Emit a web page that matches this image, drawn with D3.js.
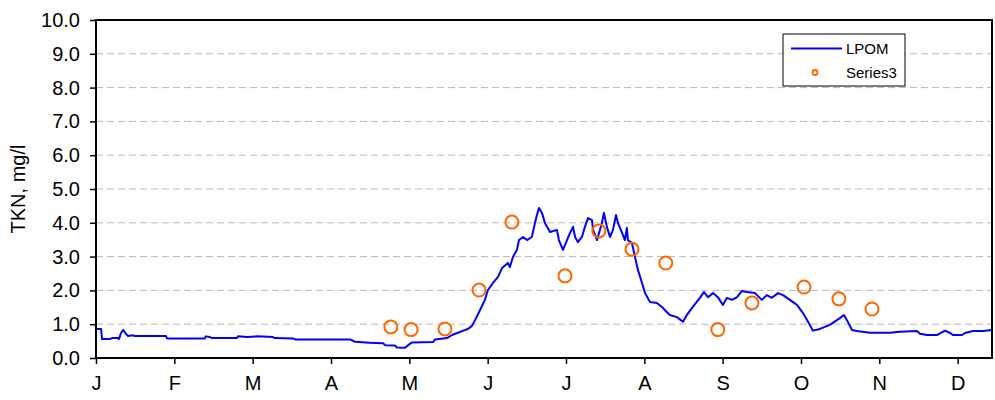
<!DOCTYPE html>
<html>
<head>
<meta charset="utf-8">
<script src="https://cdn.jsdelivr.net/npm/d3@7"></script>
<style>
  body { margin: 0; background: #fff; }
  text { font-family: "Liberation Sans", Arial, sans-serif; fill: #000; }
</style>
</head>
<body>
<div id="chart"></div>
<script>

const width = 995
const height = 400
const margin = { top: 20, bottom: 42, left: 96, right: 3 }

// LPOM simulated series (day of year, mg/l)
const lpomDays = [0, 2.0, 2.4, 5.5, 6.3, 8.7, 9.1, 9.9, 10.7, 11.9, 12.7, 14.6, 15.4, 27.7, 28.1, 43.1, 43.5, 45.1, 45.9,
    55.8, 56.2, 59.8, 63.7, 70.0, 70.8, 78.0, 78.8, 93.8, 100.5, 102.5, 108.4, 113.6, 114.4, 118.3, 119.1, 122.3,
    123.5, 125.1, 133.4, 134.2, 138.9, 140.9, 144.0, 147.2, 148.8, 150.0, 152.0, 153.9, 155.1, 157.1, 159.1, 160.7,
    163.0, 163.8, 165.0, 166.6, 167.4, 169.0, 170.6, 172.5, 173.7, 174.5, 175.3, 176.5, 177.7, 179.7, 182.4, 183.2,
    184.8, 186.4, 187.6, 188.8, 189.6, 190.7, 192.3, 193.5, 194.7, 196.3, 196.7, 198.3, 200.2, 201.0, 202.2, 203.4,
    204.6, 205.8, 206.6, 208.2, 209.3, 210.1, 210.5, 212.1, 213.3, 214.5, 216.1, 217.3, 219.2, 222.0, 224.0, 225.5,
    227.1, 229.9, 232.3, 233.8, 236.2, 239.0, 240.6, 242.2, 244.2, 246.1, 248.1, 249.7, 251.7, 253.7, 255.6, 257.6,
    260.8, 263.5, 265.5, 267.5, 269.9, 271.9, 274.6, 277.4, 279.8, 281.8, 283.7, 286.5, 290.4, 294.4, 296.0, 297.2,
    299.2, 301.1, 306.3, 314.2, 318.2, 324.9, 326.1, 328.9, 332.8, 336.0, 338.0, 339.1, 342.7, 343.9, 347.1, 351.0, 354.6]
const lpomValues = [0.86, 0.86, 0.56, 0.56, 0.59, 0.59, 0.56, 0.74, 0.83, 0.71, 0.65, 0.67, 0.65, 0.65, 0.58, 0.58, 0.64, 0.62, 0.59,
    0.59, 0.64, 0.62, 0.64, 0.62, 0.59, 0.58, 0.55, 0.55, 0.55, 0.48, 0.45, 0.44, 0.38, 0.37, 0.31, 0.30,
    0.38, 0.46, 0.47, 0.55, 0.59, 0.68, 0.77, 0.86, 0.95, 1.12, 1.42, 1.72, 2.01, 2.22, 2.40, 2.66,
    2.81, 2.69, 2.99, 3.20, 3.49, 3.58, 3.49, 3.58, 3.99, 4.23, 4.44, 4.29, 3.99, 3.73, 3.79, 3.49,
    3.20, 3.49, 3.70, 3.88, 3.58, 3.43, 3.58, 3.88, 4.14, 4.08, 3.79, 3.49, 3.99, 4.29, 3.88, 3.58,
    3.79, 4.23, 3.99, 3.70, 3.49, 3.85, 3.49, 3.40, 2.99, 2.60, 2.22, 1.92, 1.66, 1.63, 1.51, 1.39,
    1.27, 1.21, 1.07, 1.27, 1.51, 1.78, 1.95, 1.80, 1.92, 1.80, 1.57, 1.78, 1.72, 1.80, 1.98, 1.95,
    1.92, 1.72, 1.86, 1.78, 1.92, 1.86, 1.72, 1.57, 1.33, 1.07, 0.81, 0.86, 0.98, 1.18, 1.27, 1.12,
    0.83, 0.80, 0.75, 0.75, 0.78, 0.80, 0.72, 0.68, 0.68, 0.81, 0.74, 0.68, 0.68, 0.74, 0.80, 0.80, 0.83]

// Series3 observations
const obsDays = [116.7, 124.7, 138.1, 151.6, 164.6, 185.6, 199.0, 212.1, 225.5, 246.1, 259.6, 280.2, 294.0, 307.1]
const obsValues = [0.92, 0.84, 0.86, 2.01, 4.02, 2.43, 3.76, 3.22, 2.81, 0.84, 1.63, 2.10, 1.75, 1.45]

// axis ticks
const monthTicks = [0, 31, 62, 93, 124, 155, 186, 217, 248, 279, 310, 341]
const monthLabels = ["J", "F", "M", "A", "M", "J", "J", "A", "S", "O", "N", "D"]
const yTicks = [0, 1, 2, 3, 4, 5, 6, 7, 8, 9, 10]

const innerW = width - margin.left - margin.right
const innerH = height - margin.top - margin.bottom

const svg = d3.select("#chart").append("svg").attr("width", width).attr("height", height)
const elementGroup = svg.append("g").attr("transform", `translate(${margin.left}, ${margin.top})`)

const x = d3.scaleLinear().domain([0, 354.6]).range([0, innerW])
const y = d3.scaleLinear().domain([0, 10]).range([innerH, 0])

// grid
elementGroup.selectAll("line.grid").data(yTicks.filter(d => d > 0 && d < 10)).enter()
    .append("line")
    .attr("class", "grid")
    .attr("x1", 0).attr("x2", innerW)
    .attr("y1", d => y(d)).attr("y2", d => y(d))
    .attr("stroke", "#b8b8b8")
    .attr("stroke-width", 1)
    .attr("stroke-dasharray", "7,4")

// axes
const xAxis = d3.axisBottom(x).tickValues(monthTicks).tickFormat((d, i) => monthLabels[i])
    .tickSize(6).tickSizeOuter(0).tickPadding(12)
const yAxis = d3.axisLeft(y).tickValues(yTicks).tickFormat(d3.format(".1f"))
    .tickSize(6).tickSizeOuter(0).tickPadding(10)

const xAxisGroup = svg.append("g").attr("transform", `translate(${margin.left}, ${height - margin.bottom})`).call(xAxis)
const yAxisGroup = svg.append("g").attr("transform", `translate(${margin.left}, ${margin.top})`).call(yAxis)

;[xAxisGroup, yAxisGroup].forEach(g => {
    g.select(".domain").remove()
    g.selectAll(".tick line").attr("stroke", "#000").attr("stroke-width", 1.5)
    g.selectAll(".tick text").attr("font-size", 20).attr("fill", "#000")
        .attr("font-family", "'Liberation Sans', Arial, sans-serif")
})

// LPOM line
const lineData = lpomDays.map((d, i) => [d, lpomValues[i]])
elementGroup.append("path")
    .datum(lineData)
    .attr("fill", "none")
    .attr("stroke", "#0000ff")
    .attr("stroke-width", 2)
    .attr("stroke-linejoin", "round")
    .attr("d", d3.line().x(d => x(d[0])).y(d => y(d[1])))

// Series3 circles
elementGroup.selectAll("circle.obs").data(obsDays).enter()
    .append("circle")
    .attr("class", "obs")
    .attr("cx", d => x(d))
    .attr("cy", (d, i) => y(obsValues[i]))
    .attr("r", 6.5)
    .attr("fill", "none")
    .attr("stroke", "#ff6600")
    .attr("stroke-width", 2)

// plot frame
elementGroup.append("rect")
    .attr("x", 0).attr("y", 0)
    .attr("width", innerW).attr("height", innerH)
    .attr("fill", "none")
    .attr("stroke", "#000")
    .attr("stroke-width", 2)

// y title
svg.append("text")
    .attr("transform", `translate(25, ${margin.top + innerH / 2}) rotate(-90)`)
    .attr("text-anchor", "middle")
    .attr("font-size", 20)
    .text("TKN, mg/l")

// legend
const legend = svg.append("g").attr("transform", "translate(783, 34)")
legend.append("rect")
    .attr("width", 122).attr("height", 52)
    .attr("fill", "#fff").attr("stroke", "#000").attr("stroke-width", 1)
legend.append("line")
    .attr("x1", 8).attr("x2", 59).attr("y1", 14.5).attr("y2", 14.5)
    .attr("stroke", "#0000ff").attr("stroke-width", 2)
legend.append("text").attr("x", 63).attr("y", 19.5).attr("font-size", 15).text("LPOM")
legend.append("circle")
    .attr("cx", 32).attr("cy", 38.5).attr("r", 2.5)
    .attr("fill", "none").attr("stroke", "#ff6600").attr("stroke-width", 1.8)
legend.append("text").attr("x", 63).attr("y", 44).attr("font-size", 15).text("Series3")

</script>
</body>
</html>
